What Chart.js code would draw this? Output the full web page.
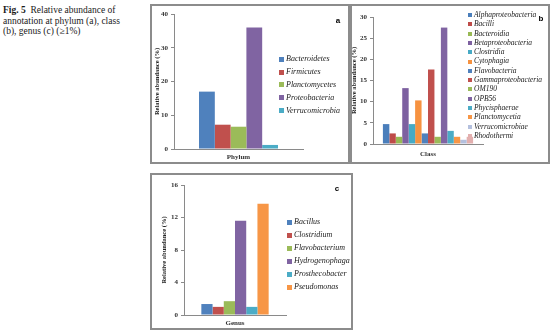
<!DOCTYPE html>
<html><head><meta charset="utf-8">
<script src="https://cdn.jsdelivr.net/npm/chart.js@4"></script>
<style>
html,body{margin:0;padding:0;background:#fff;}
body{width:554px;height:336px;position:relative;overflow:hidden;font-family:"Liberation Serif",serif;}
#cap{position:absolute;left:3px;top:5px;font-size:9.5px;line-height:10.5px;color:#1a1a1a;white-space:nowrap;}
.box{position:absolute;border:2px solid #8c8c8c;box-sizing:border-box;pointer-events:none;z-index:2}
canvas{position:absolute;}
</style></head><body>
<div id="cap"><b>Fig. 5</b>&nbsp; Relative abundance of<br>annotation at phylum (a), class<br>(b), genus (c) (≥1%)</div>
<canvas id="ca" width="196" height="157" style="left:152px;top:5px;width:196px;height:157px"></canvas>
<canvas id="cb" width="198" height="156" style="left:350px;top:6px;width:198px;height:156px"></canvas>
<canvas id="cc" width="199" height="153" style="left:152px;top:175px;width:199px;height:153px"></canvas>
<div class="box" style="left:150px;top:4px;width:200px;height:160px"></div>
<div class="box" style="left:350px;top:4px;width:200px;height:160px"></div>
<div class="box" style="left:150px;top:173px;width:203px;height:157px"></div>
<script>
// ---- Data ----
const phylumCategory = ['Phylum'];
const phylumNames = ['Bacteroidetes','Firmicutes','Planctomycetes','Proteobacteria','Verrucomicrobia'];
const phylumValues = [17.0, 7.2, 6.6, 36.0, 1.2];
const phylumTicks = [0, 10, 20, 30, 40];

const classCategory = ['Class'];
const classNames = ['Alphaproteobacteria','Bacilli','Bacteroidia','Betaproteobacteria','Clostridia','Cytophagia','Flavobacteria','Gammaproteobacteria','OM190','OPB56','Phycisphaerae','Planctomycetia','Verrucomicrobiae','Rhodothermi'];
const classValues = [4.7, 2.5, 1.7, 13.2, 4.7, 10.3, 2.5, 17.6, 1.7, 27.5, 3.1, 1.7, 1.0, 1.7];
const classTicks = [0, 5, 10, 15, 20, 25, 30];

const genusCategory = ['Genus'];
const genusNames = ['Bacillus','Clostridium','Flavobacterium','Hydrogenophaga','Prosthecobacter','Pseudomonas'];
const genusValues = [1.35, 1.0, 1.7, 11.6, 1.0, 13.7];
const genusTicks = [0, 4, 8, 12, 16];

const yTitle = 'Relative abundance (%)';

// ---- Styles ----
const phylumColors = ['#4F81BD','#C0504D','#9BBB59','#8064A2','#4BACC6'];
const classColors = ['#4A7EBB','#BE4B48','#98B954','#7D60A0','#46AAC5','#F69240','#4F81BD','#C0504D','#9BBB59','#8064A2','#4BACC6','#F79646','#B4C0DE','#E3AFAE'];
const genusColors = ['#4F81BD','#C0504D','#9BBB59','#8064A2','#4BACC6','#F79646'];

const sideLegend = {
  id: 'sideLegend',
  afterDatasetsDraw(chart, args, o) {
    const ctx = chart.ctx; ctx.save();
    ctx.font = o.font; ctx.textBaseline = 'middle'; ctx.textAlign = 'left';
    chart.data.datasets.forEach((ds, i) => {
      const y = o.y + i * o.step;
      ctx.fillStyle = ds.backgroundColor;
      ctx.fillRect(o.x, Math.round(y - o.box / 2), o.box, o.box);
      ctx.fillStyle = '#1a1a1a';
      ctx.fillText(ds.label, o.x + o.box + o.gap, y);
    });
    ctx.font = o.tagFont; ctx.fillStyle = '#000'; ctx.textAlign = 'center';
    ctx.fillText(o.tag, o.tagX, o.tagY);
    ctx.restore();
  }
};

function makeChart(id, category, names, values, colors, ticks, c) {
  const datasets = names.map((n, i) => ({
    label: n, data: [values[i]], backgroundColor: colors[i], borderWidth: 0,
    categoryPercentage: c.catPct, barPercentage: 1.0
  }));
  return new Chart(document.getElementById(id), {
    type: 'bar',
    data: { labels: category, datasets },
    plugins: [sideLegend],
    options: {
      responsive: false, animation: false, devicePixelRatio: 1,
      layout: { padding: { left: 0, top: c.padTop, right: c.padRight, bottom: 0 } },
      plugins: {
        legend: { display: false }, tooltip: { enabled: false },
        sideLegend: { x: c.legX, y: c.legY, step: c.legStep, box: c.legBox, gap: 2,
          font: 'italic ' + c.legFont + 'px "Liberation Serif"',
          tag: c.tag, tagX: c.tagX, tagY: c.tagY, tagFont: 'bold 8px "Liberation Sans"' }
      },
      scales: {
        x: {
          grid: { display: false, drawTicks: false },
          border: { display: true, color: '#8a8a8a', width: 1 },
          ticks: { font: { family: 'Liberation Serif', size: 7, weight: 'bold' }, color: '#333', padding: c.xPad },
          afterFit: s => { s.height = c.xH; }
        },
        y: {
          min: ticks[0], max: ticks[ticks.length - 1],
          afterBuildTicks: s => { s.ticks = ticks.map(v => ({ value: v })); },
          grid: { drawOnChartArea: false, drawTicks: true, tickLength: 3, color: '#8a8a8a' },
          border: { display: true, color: '#8a8a8a', width: 1 },
          ticks: { font: { family: 'Liberation Serif', size: 7, weight: 'bold' }, color: '#333', padding: 3 },
          title: { display: true, text: yTitle, color: '#222',
            font: { family: 'Liberation Serif', size: 6.5, weight: 'bold' }, padding: { top: c.titlePad, bottom: 0 } },
          afterFit: s => { s.width = c.yW; }
        }
      }
    }
  });
}

makeChart('ca', phylumCategory, phylumNames, phylumValues, phylumColors, phylumTicks, {
  catPct: 0.612, padTop: 9, padRight: 45, xH: 13, yW: 22, xPad: 4, titlePad: 1,
  legX: 127, legY: 54.3, legStep: 12.8, legBox: 5, legFont: 8,
  tag: 'a', tagX: 186, tagY: 16
});
makeChart('cb', classCategory, classNames, classValues, classColors, classTicks, {
  catPct: 0.82, padTop: 11, padRight: 65, xH: 18, yW: 23, xPad: 6, titlePad: 0,
  legX: 118, legY: 9, legStep: 9.3, legBox: 4, legFont: 7.5,
  tag: 'b', tagX: 191, tagY: 13
});
makeChart('cc', genusCategory, genusNames, genusValues, genusColors, genusTicks, {
  catPct: 0.66, padTop: 10, padRight: 65, xH: 13, yW: 32, xPad: 4, titlePad: 8,
  legX: 135, legY: 47, legStep: 13, legBox: 5, legFont: 8,
  tag: 'c', tagX: 185, tagY: 14
});
</script>
</body></html>
